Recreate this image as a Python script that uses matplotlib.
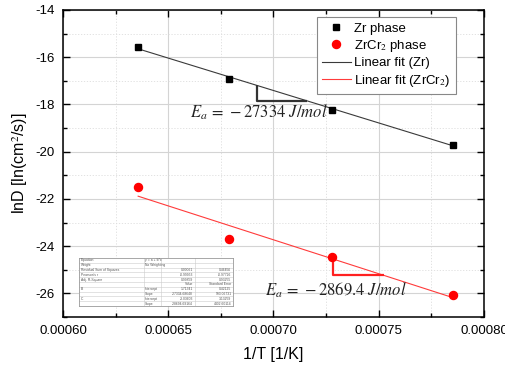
import numpy as np
import matplotlib
matplotlib.use("Agg")
import matplotlib.pyplot as plt
from matplotlib.ticker import MultipleLocator, FormatStrFormatter

plt.rcParams['font.family'] = ['Liberation Sans', 'DejaVu Sans']
plt.rcParams['mathtext.fontset'] = 'stix'

# ---- data ----
inv_T = [0.0006357, 0.0006789, 0.0007278, 0.0007853]
lnD_zr = [-15.57, -16.91, -18.22, -19.70]
lnD_zrcr2 = [-21.51, -23.70, -24.44, -26.07]

labels = ["Zr phase", "ZrCr$_2$ phase", "Linear fit (Zr)", "Linear fit (ZrCr$_2$)"]
ea_texts = [r"$E_a\,=\,-27334\ J/mol$", r"$E_a\,=\,-2869.4\ J/mol$"]

# slope-triangle annotations: x extents of the triangles
tri_zr_x = (0.000692, 0.0007157)
tri_cr_x = (0.0007284, 0.0007523)
tri_cr_y = (-24.46, -25.23)

table_rows = [
    ("Equation", "y = a + b*x", "", ""),
    ("Weight", "No Weighting", "", ""),
    ("Residual Sum of Squares", "", "0.00061", "0.46456"),
    ("Pearson's r", "", "-0.99953", "-0.97726"),
    ("Adj. R-Square", "", "0.99859", "0.93255"),
    ("", "", "Value", "Standard Error"),
    ("B", "Intercept", "1.71341", "0.42125"),
    ("", "Slope", "-27334.68648", "593.06731"),
    ("C", "Intercept", "-3.03603", "3.13259"),
    ("", "Slope", "-28694.69164", "4402.60114"),
]

fig = plt.figure(figsize=(5.06, 3.67), dpi=100)
ax = fig.add_axes([0.1245, 0.1362, 0.832, 0.8366])

x = np.array(inv_T)
p_zr = np.polyfit(x, lnD_zr, 1)
p_cr = np.polyfit(x, lnD_zrcr2, 1)
xf = np.array([x.min(), x.max()])

ax.plot(xf, np.polyval(p_zr, xf), color='#3a3a3a', lw=0.8, label=labels[2], zorder=3)
ax.plot(xf, np.polyval(p_cr, xf), color='#ff3b3b', lw=0.8, label=labels[3], zorder=3)
ax.plot(x, lnD_zr, 's', color='black', ms=4.5, label=labels[0], zorder=4)
ax.plot(x, lnD_zrcr2, 'o', color='red', ms=5.8, label=labels[1], zorder=4)

# slope triangles
zt, zb = np.polyval(p_zr, tri_zr_x[0]), np.polyval(p_zr, tri_zr_x[1])
ax.plot([tri_zr_x[0], tri_zr_x[0], tri_zr_x[1]], [zt, zb, zb], color='#333333', lw=1.6,
        zorder=3, solid_capstyle='butt')
ax.plot([tri_cr_x[0], tri_cr_x[0], tri_cr_x[1]], [tri_cr_y[0], tri_cr_y[1], tri_cr_y[1]],
        color='#ff2020', lw=1.6, zorder=3, solid_capstyle='butt')

ax.text(0.0006603, -18.35, ea_texts[0], fontsize=12, ha='left', va='center', color='#222222')
ax.text(0.0006962, -25.88, ea_texts[1], fontsize=12, ha='left', va='center', color='#222222')

ax.set_xlim(0.0006, 0.0008)
ax.set_ylim(-27, -14)
ax.xaxis.set_major_locator(MultipleLocator(0.00005))
ax.xaxis.set_minor_locator(MultipleLocator(0.000025))
ax.yaxis.set_major_locator(MultipleLocator(2))
ax.yaxis.set_minor_locator(MultipleLocator(1))
ax.xaxis.set_major_formatter(FormatStrFormatter('%.5f'))
ax.yaxis.set_major_formatter(FormatStrFormatter('%d'))

ax.grid(True, which='major', color='#d4d4d4', lw=0.8)
ax.grid(True, which='minor', color='#dddddd', lw=0.6, ls=(0, (1.5, 2)))
ax.set_axisbelow(True)

ax.tick_params(which='both', direction='in', top=True, right=True, labelsize=9.5, pad=6)
ax.tick_params(which='major', length=5, width=1)
ax.tick_params(which='minor', length=3, width=1)
for s in ax.spines.values():
    s.set_linewidth(1.1)

ax.set_xlabel("1/T [1/K]", fontsize=11.5, labelpad=7)
ax.set_ylabel("lnD [ln(cm$^2$/s)]", fontsize=11.5, labelpad=4)

h, l = ax.get_legend_handles_labels()
order = [2, 3, 0, 1]
leg = ax.legend([h[i] for i in order], [l[i] for i in order], loc='upper right',
                bbox_to_anchor=(0.9335, 0.977), fontsize=9.5, frameon=True, fancybox=False,
                edgecolor='#888888', framealpha=1, handlelength=2.2, borderpad=0.4,
                labelspacing=0.25, handletextpad=0.25, borderaxespad=0)
leg.get_frame().set_linewidth(0.8)

# inset fit-results table
tax = fig.add_axes([79 / 506, (367 - 306) / 367, 154 / 506, 48 / 367])
tax.set_xlim(0, 1)
tax.set_ylim(0, 1)
tax.set_xticks([])
tax.set_yticks([])
tax.set_facecolor('white')
for s in tax.spines.values():
    s.set_color('#999999')
    s.set_linewidth(0.6)
col_x = [0.0, 0.42, 0.53, 0.75, 1.0]
n = len(table_rows)
rh = 1.0 / n
for i, row in enumerate(table_rows):
    ytop = 1 - i * rh
    yc = ytop - rh / 2
    if i > 0:
        tax.axhline(ytop, color='#cccccc', lw=0.4)
    for j, txt in enumerate(row):
        if not txt:
            continue
        if j == 0:
            tax.text(col_x[0] + 0.01, yc, txt, fontsize=2.4, va='center', ha='left', color='#555555')
        elif j == 1:
            tax.text(col_x[1] + 0.01, yc, txt, fontsize=2.4, va='center', ha='left', color='#555555')
        else:
            tax.text(col_x[j + 1] - 0.01, yc, txt, fontsize=2.4, va='center', ha='right', color='#555555')
for cx in col_x[1:-1]:
    tax.axvline(cx, color='#cccccc', lw=0.4)

fig.savefig("out.png", dpi=100)
